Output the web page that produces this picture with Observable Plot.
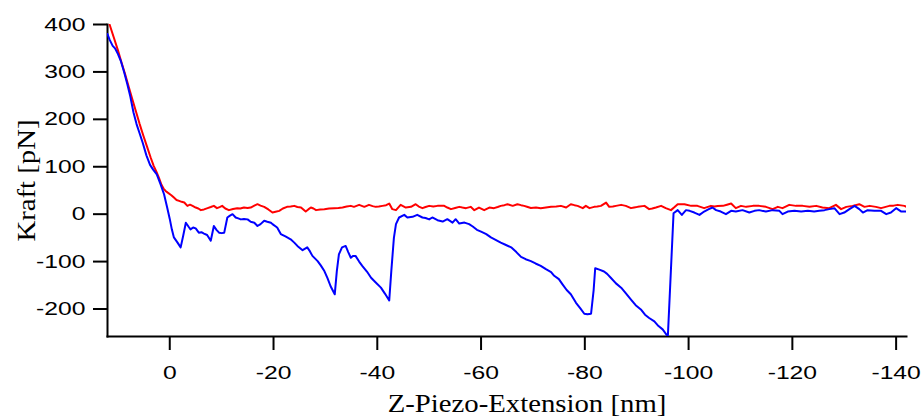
<!DOCTYPE html>
<html>
<head>
<meta charset="utf-8">
<script src="https://cdn.jsdelivr.net/npm/d3@7"></script>
<script src="https://cdn.jsdelivr.net/npm/@observablehq/plot@0.6"></script>
<style>
  html, body { margin: 0; padding: 0; background: #fff; }
  #chart svg { display: block; }
</style>
</head>
<body>
<div id="chart"></div>
<script>
// Tick labels
const xTicks = [0, -20, -40, -60, -80, -100, -120, -140];
const yTicks = [400, 300, 200, 100, 0, -100, -200];

// Red curve: Z-piezo extension [nm] and force [pN]
const redZ = [11.6,10.8,10.0,9.3,8.6,7.9,7.2,6.5,5.8,5.1,4.4,3.7,3.1,2.6,2.1,1.6,1.2,0.8,0.45,-0.3,-0.8,-1.3,-1.8,-2.3,-2.8,-3.4,-3.9,-4.4,-5.0,-5.5,-6.0,-6.6,-7.3,-7.9,-8.5,-9.1,-9.6,-10.1,-10.7,-11.4,-12.2,-13.0,-13.6,-14.3,-15.0,-15.6,-16.3,-16.9,-17.5,-18.2,-19.0,-19.8,-20.4,-21.1,-21.8,-22.6,-23.3,-24.0,-24.6,-25.3,-26.2,-26.7,-27.2,-27.7,-28.2,-29.0,-29.8,-30.7,-31.7,-32.5,-33.3,-34.1,-34.9,-35.5,-36.5,-37.5,-38.4,-39.1,-39.7,-40.3,-41.0,-41.7,-42.3,-42.9,-43.6,-44.5,-45.5,-46.5,-47.4,-48.0,-48.7,-49.3,-50.0,-50.8,-51.6,-52.2,-52.9,-53.5,-54.2,-55.0,-55.8,-56.4,-57.1,-58.0,-58.7,-59.6,-60.6,-61.6,-62.5,-63.2,-63.8,-64.5,-65.1,-66.1,-67.0,-67.7,-68.3,-69.0,-69.6,-70.6,-71.5,-72.5,-73.5,-74.5,-75.4,-76.4,-77.3,-78.0,-78.6,-79.6,-80.2,-80.9,-81.8,-82.4,-83.1,-84.1,-84.7,-85.4,-86.0,-87.0,-87.9,-88.9,-89.5,-90.2,-91.5,-92.4,-93.0,-93.7,-94.7,-95.6,-96.6,-97.3,-97.9,-98.6,-99.2,-100.5,-101.7,-103.0,-104.3,-105.0,-105.6,-106.6,-107.4,-108.2,-109.1,-110.1,-111.1,-112.4,-113.6,-114.9,-116.2,-117.2,-118.1,-119.4,-120.7,-122.0,-123.3,-124.6,-125.8,-127.1,-128.4,-129.4,-130.4,-131.6,-132.9,-133.9,-134.9,-136.1,-137.1,-138.7,-139.5,-140.3,-141.6,-142.0];
const redF = [400,373,346,320,295,268,242,216,190,166,143,120,102,90,77,62,54,49,46,40,35,30,28,26,24.5,17.5,20,17.5,14,12,8.5,10,12.7,15,17.5,12.7,15,17.5,12,8.5,11,12.7,12,14,13,14,18,21,18,15.4,10,3.4,5,7,12,15.4,16,17.5,15,14,5.5,10,14,12,8.5,10,10.6,12,12.7,13,14,16,17.5,15.4,19.6,15.4,19.6,17,15.4,16,17.5,19,22.4,10.6,8.5,19.6,14,15.4,21,16,12.7,15,17.5,16,17.5,18,17.5,14,10.6,13,15.4,14,12.7,15.4,8.5,14,8.5,14,12.7,15,17.5,19,21,17.5,21,19,17.5,15,13,14,12.7,14,15.4,16,17.5,14,21,19,17.5,12.7,17.5,12.7,15.4,16,17.5,24.5,15.4,16,17.5,19.6,17.5,12.7,14,15.4,17.5,10.6,12,14,17.5,12.7,8.5,15,21,21,21,17.5,17.5,12.7,17.5,16,17,17.5,20,22.4,12.7,17.5,15.4,17.5,17.5,15.4,10.6,15.4,12.7,19.6,17.5,17.5,15.4,17.5,14,12.7,19.6,10.6,15.4,17.5,21,15.4,17.5,15.4,12.7,17.5,18,19.6,17.5,15.4];

// Blue curve
const blueZ = [12,11.6,11.0,10.5,10.0,9.4,8.8,8.2,7.6,7.0,6.4,5.8,5.2,4.5,3.8,3.2,2.5,1.8,1.1,0.5,0,-0.4,-0.8,-1.5,-2.1,-2.6,-3.1,-3.6,-4.0,-4.5,-5.0,-5.6,-6.1,-6.6,-7.2,-7.9,-8.5,-9.0,-9.5,-10.0,-10.5,-11.1,-11.6,-12.1,-12.7,-13.2,-13.7,-14.3,-15.0,-15.6,-16.3,-16.9,-17.5,-18.2,-18.8,-19.5,-19.8,-20.7,-21.4,-22.3,-23.3,-24.0,-24.6,-25.6,-26.5,-27.0,-27.5,-28.5,-29.1,-29.8,-30.4,-31.0,-31.8,-32.2,-32.6,-33.2,-33.9,-34.4,-34.9,-35.3,-35.8,-36.5,-37.1,-38.0,-38.8,-39.7,-40.7,-41.5,-42.3,-42.7,-43.2,-43.6,-44.2,-45.2,-45.8,-46.8,-47.7,-48.7,-49.3,-50.0,-50.6,-51.6,-52.6,-53.5,-54.5,-55.1,-55.8,-56.8,-57.7,-58.4,-59.2,-60.0,-61.0,-61.9,-62.8,-63.8,-64.8,-65.8,-66.8,-67.7,-68.6,-69.6,-70.5,-71.5,-72.5,-73.5,-74.1,-75.0,-75.7,-76.5,-77.3,-78.3,-79.1,-79.9,-80.5,-81.2,-81.7,-82.0,-82.8,-83.7,-84.3,-85.0,-86.0,-87.0,-88.0,-88.9,-89.8,-90.8,-91.6,-92.4,-93.4,-94.2,-95.0,-96.0,-97.1,-97.9,-98.7,-99.5,-100.2,-101.1,-102.1,-103.0,-103.8,-104.6,-105.3,-106.2,-107.2,-108.2,-109.1,-110.4,-111.7,-112.7,-113.6,-114.9,-116.2,-117.5,-118.1,-119.1,-120.4,-121.7,-123.0,-124.2,-125.2,-126.2,-127.1,-128.1,-129.1,-130.0,-131.0,-132.0,-132.9,-133.6,-134.5,-135.8,-137.1,-138.1,-139.0,-140.0,-141.0,-142.0];
const blueF = [380,368,355,349,338,322,300,275,248,215,190,170,150,124,104,94,84,64,42,14,-10,-32,-49,-60,-70,-45,-18,-26,-32,-28,-30,-39,-38,-41,-44,-56,-25,-33,-39,-40,-39,-7,-3,0,-7,-9,-11,-10,-11,-16,-18,-25,-21,-14,-16,-18,-21,-28,-42,-47,-53,-60,-67,-76,-70,-78,-88,-99,-108,-120,-135,-152,-169,-120,-85,-70,-67,-80,-92,-88,-88,-100,-109,-121,-134,-144,-155,-168,-182,-120,-50,-21,-7,-1.5,-7,-5.7,-1.5,-7,-8,-11,-7,-12.7,-15.6,-10.6,-17.8,-10.6,-19.9,-17.8,-21,-26,-33,-37,-42,-49,-54,-60,-65,-70,-80,-90,-95,-99,-104,-109,-116,-122,-130,-137,-148,-160,-169,-187,-198,-210,-211,-210,-160,-114,-117,-121,-126,-134,-146,-155,-168,-180,-192,-201,-212,-219,-226,-236,-243,-258,2,8.5,-1.5,8.5,7,3.4,-1.5,5.5,10,14,8.5,5.5,0,7,5.5,8.5,3.4,7,8.5,5.5,8.5,7,0,5.5,7,5.5,7,5.5,7,8.5,10.6,12.7,0,3.4,10.6,17.5,10.6,3.4,8.5,7,7,0,3.4,12.7,5.5,5.5];

const xTitle = "Z-Piezo-Extension [nm]";
const yTitle = "Kraft [pN]";

const red = redZ.map((z, i) => ({z, f: redF[i]}));
const blue = blueZ.map((z, i) => ({z, f: blueF[i]}));

const sans = "'Liberation Sans', Arial, Helvetica, sans-serif";
const serif = "'Liberation Serif', 'Times New Roman', serif";

const svg = Plot.plot({
  width: 922,
  height: 417,
  marginLeft: 107,
  marginRight: 16,
  marginTop: 24,
  marginBottom: 81,
  style: {background: "white", color: "black", fontFamily: sans},
  x: {domain: [12, -142]},
  y: {domain: [-258, 400]},
  marks: [
    Plot.axisX(xTicks, {tickSize: 14, tickPadding: 15, strokeWidth: 2, fontSize: 19, tickFormat: d => String(d), label: null}),
    Plot.axisY(yTicks, {tickSize: 14, tickPadding: 8, strokeWidth: 2, fontSize: 19, tickFormat: d => String(d), label: null}),
    Plot.frame({anchor: "left", strokeWidth: 2}),
    Plot.frame({anchor: "bottom", strokeWidth: 2}),
    Plot.line(red, {x: "z", y: "f", stroke: "#ff0000", strokeWidth: 2, clip: true}),
    Plot.line(blue, {x: "z", y: "f", stroke: "#0000ff", strokeWidth: 2, clip: true}),
    Plot.text([xTitle], {text: d => d, frameAnchor: "bottom", textAnchor: "middle", lineAnchor: "middle", dx: 20, dy: 67.5, fontSize: 25, fontFamily: serif, fill: "black"}),
    Plot.text([yTitle], {text: d => d, frameAnchor: "left", textAnchor: "middle", lineAnchor: "middle", rotate: -90, dx: -81, fontSize: 25, fontFamily: serif, fill: "black"})
  ]
});

// Horizontally widen texts to match the reference's wide lettering
function stretch(selector, s) {
  svg.querySelectorAll(selector).forEach(t => {
    let tr = t.getAttribute("transform") || "";
    const x = t.getAttribute("x");
    if (x && !isNaN(+x) && +x !== 0) {
      tr += ` translate(${+x},0)`;
      t.removeAttribute("x");
    }
    t.setAttribute("transform", (tr + ` scale(${s},1)`).trim());
  });
}
stretch('g[aria-label="x-axis tick label"] text', 1.3);
stretch('g[aria-label="y-axis tick label"] text', 1.3);
stretch('g[aria-label="text"] text', 1.15);

document.getElementById("chart").appendChild(svg);
</script>
</body>
</html>
